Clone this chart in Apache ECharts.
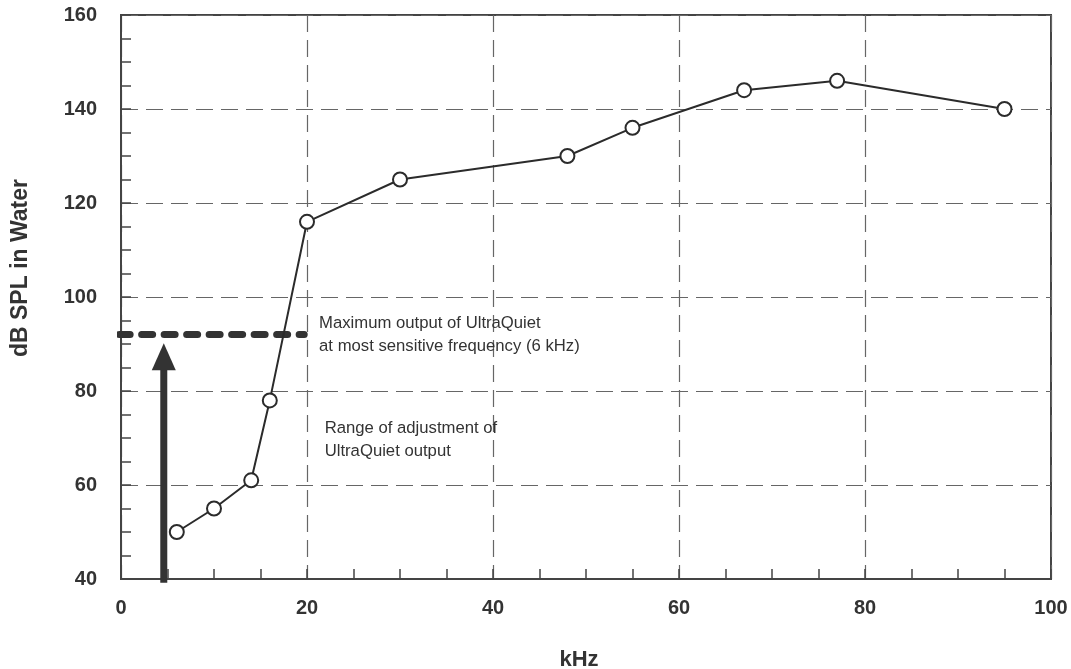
<!DOCTYPE html>
<html><head><meta charset="utf-8">
<script src="https://cdn.jsdelivr.net/npm/echarts@6/dist/echarts.min.js"></script>
<style>html,body{margin:0;padding:0;background:#fff}#c{width:1071px;height:669px}</style>
</head><body><div id="c"></div>
<script>
// Data
const freqKHz = [6, 10, 14, 16, 20, 30, 48, 55, 67, 77, 95];
const dbSPL   = [50, 55, 61, 78, 116, 125, 130, 136, 144, 146, 140];
const maxOutputLine = [[-0.2, 92], [19.7, 92]];
const arrowShaft = [[4.6, 39.2], [4.6, 87]];
const arrowHead = [[4.6, 87.3]];
const xTicks = [0, 20, 40, 60, 80, 100];
const yTicks = [40, 60, 80, 100, 120, 140, 160];
const xTitle = 'kHz';
const yTitle = 'dB SPL in Water';
const notes = [
  {x: 21.3, y: 96.8, lines: ['Maximum output of UltraQuiet', 'at most sensitive frequency (6 kHz)']},
  {x: 21.9, y: 74.4, lines: ['Range of adjustment of', 'UltraQuiet output']}
];

const FONT = 'Arial, "Liberation Sans", sans-serif';
const TXT = '#333';
const chart = echarts.init(document.getElementById('c'));
const axisCommon = {
  type: 'value', interval: 20,
  axisLine: {show: true, lineStyle: {color: '#444', width: 2}},
  axisTick: {show: true, inside: true, length: 10, lineStyle: {color: '#444', width: 1.5}},
  minorTick: {show: true, splitNumber: 4, length: 10, lineStyle: {color: '#444', width: 1.5}},
  splitLine: {show: true, lineStyle: {color: '#666', width: 1.2, type: [17, 8]}}
};
chart.setOption({
  animation: false,
  backgroundColor: '#fff',
  grid: {left: 121, right: 20, top: 15, bottom: 90, show: true, borderColor: '#444', borderWidth: 2, backgroundColor: 'transparent'},
  xAxis: Object.assign({}, axisCommon, {
    min: xTicks[0], max: xTicks[xTicks.length-1],
    axisLabel: {fontFamily: FONT, fontWeight: 'bold', fontSize: 20, color: TXT, margin: 19}
  }),
  yAxis: Object.assign({}, axisCommon, {
    min: yTicks[0], max: yTicks[yTicks.length-1],
    axisLabel: {fontFamily: FONT, fontWeight: 'bold', fontSize: 20, color: TXT, margin: 24}
  }),
  series: [
    {type: 'line', data: maxOutputLine, symbol: 'none', clip: false, z: 3,
     lineStyle: {color: '#333', width: 7, type: [11, 11.5], cap: 'round'}},
    {type: 'line', data: arrowShaft, symbol: 'none', clip: false, z: 4,
     lineStyle: {color: '#333', width: 7}},
    {type: 'scatter', data: arrowHead, symbol: 'triangle', symbolSize: [24, 27], clip: false, z: 4,
     itemStyle: {color: '#333', opacity: 1}},
    {type: 'line', data: freqKHz.map((f, i) => [f, dbSPL[i]]), z: 5,
     symbol: 'circle', symbolSize: 14,
     lineStyle: {color: '#2b2b2b', width: 2},
     itemStyle: {color: '#fff', borderColor: '#2b2b2b', borderWidth: 2}}
  ]
});

const g = [];
notes.forEach(n => {
  const p = chart.convertToPixel({gridIndex: 0}, [n.x, n.y]);
  g.push({type: 'text', x: p[0], y: p[1], z: 10,
    style: {text: n.lines.join('\n'), fontFamily: FONT, fontSize: 16.7, lineHeight: 23, fill: TXT}});
});
g.push({type: 'text', x: 579, y: 660, z: 10,
  style: {text: xTitle, fontFamily: FONT, fontWeight: 'bold', fontSize: 22, fill: TXT, align: 'center', verticalAlign: 'middle'}});
g.push({type: 'text', x: 21, y: 268, rotation: Math.PI / 2, z: 10,
  style: {text: yTitle, fontFamily: FONT, fontWeight: 'bold', fontSize: 23, fill: TXT, align: 'center', verticalAlign: 'middle'}});
chart.setOption({graphic: g});
</script></body></html>
